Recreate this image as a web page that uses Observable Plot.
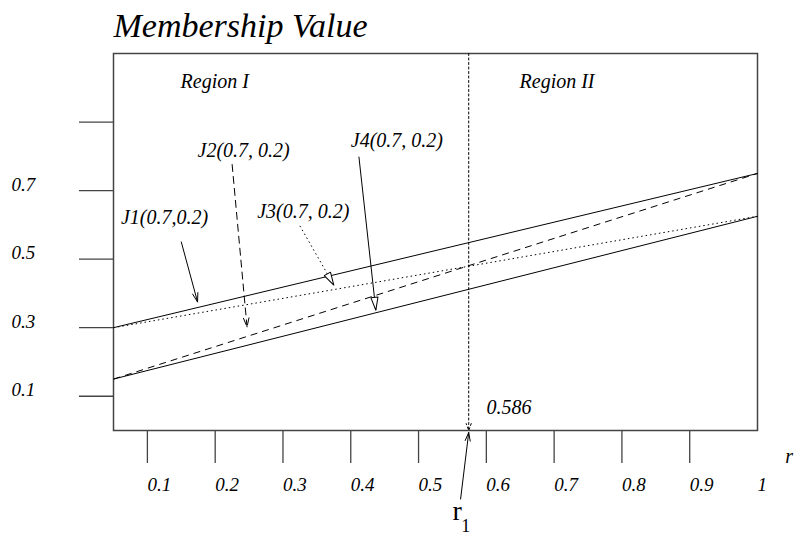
<!DOCTYPE html>
<html>
<head>
<meta charset="utf-8">
<script src="https://cdn.jsdelivr.net/npm/d3@7"></script>
<script src="https://cdn.jsdelivr.net/npm/@observablehq/plot@0.6"></script>
<style>
  html, body { margin: 0; padding: 0; background: #fff; }
  #chart svg { display: block; }
</style>
</head>
<body>
<div id="chart"></div>
<script>
// ---- data ----
const xDomain = [0.05, 1];
const yDomain = [0, 1.1];

const xTickValues = [0.1, 0.2, 0.3, 0.4, 0.5, 0.6, 0.7, 0.8, 0.9];
const xLabelValues = [0.1, 0.2, 0.3, 0.4, 0.5, 0.6, 0.7, 0.8, 0.9, 1];
const xLabelTexts = ["0.1", "0.2", "0.3", "0.4", "0.5", "0.6", "0.7", "0.8", "0.9", "1"];

const yTickValues = [0.1, 0.3, 0.5, 0.7, 0.9];
const yLabelValues = [0.1, 0.3, 0.5, 0.7];
const yLabelTexts = ["0.1", "0.3", "0.5", "0.7"];

// membership lines: [x1, y1, x2, y2]
const lineNames  = ["upperSolid", "lowerSolid", "dashed", "dotted"];
const lineX1     = [0.05, 0.05, 0.05, 0.05];
const lineY1     = [0.30, 0.15, 0.15, 0.30];
const lineX2     = [1, 1, 1, 1];
const lineY2     = [0.75, 0.625, 0.75, 0.625];
const lineDash   = ["none", "none", "7,5", "1.5,3"];

// boundary r1
const boundaryX = 0.574;
const boundaryLabel = "0.586";

// annotation arrows
const arrowNames = ["J1", "J2", "J3", "J4"];
const arrowX1 = [0.150, 0.225, 0.325, 0.412];
const arrowY1 = [0.550, 0.776, 0.597, 0.799];
const arrowX2 = [0.174, 0.247, 0.375, 0.437];
const arrowY2 = [0.375, 0.302, 0.424, 0.351];
const arrowDash = ["none", "7,5", "1.5,3", "none"];
const arrowHead = ["v", "v", "triangle", "triangle"];

// annotation labels
const labelTexts = ["J1(0.7,0.2)", "J2(0.7, 0.2)", "J3(0.7, 0.2)", "J4(0.7, 0.2)", "Region I", "Region II", boundaryLabel];
const labelX = [0.061, 0.174, 0.262, 0.400, 0.149, 0.649, 0.6004];
const labelY = [0.603, 0.799, 0.621, 0.828, 0.998, 0.998, 0.049];

// r1 arrow (below the axis)
const r1X1 = 0.562, r1Y1 = -0.200, r1X2 = 0.574, r1Y2 = -0.006;

// ---- build tables ----
const lines = lineNames.map((n, i) => ({name: n, x1: lineX1[i], y1: lineY1[i], x2: lineX2[i], y2: lineY2[i], dash: lineDash[i]}));
const arrows = arrowNames.map((n, i) => ({name: n, x1: arrowX1[i], y1: arrowY1[i], x2: arrowX2[i], y2: arrowY2[i], dash: arrowDash[i], head: arrowHead[i]}));
const labels = labelTexts.map((t, i) => ({text: t, x: labelX[i], y: labelY[i]}));
const xLabels = xLabelValues.map((v, i) => ({v, t: xLabelTexts[i]}));
const yLabels = yLabelValues.map((v, i) => ({v, t: yLabelTexts[i]}));

const FONT = "Liberation Serif, Times New Roman, serif";
const INK = "#000";
const AXIS = "#444";

function triangleMarker(color, context) {
  const doc = (context && context.document) || document;
  const ns = "http://www.w3.org/2000/svg";
  const m = doc.createElementNS(ns, "marker");
  m.setAttribute("viewBox", "-15 -6 17 12");
  m.setAttribute("markerWidth", "17");
  m.setAttribute("markerHeight", "12");
  m.setAttribute("markerUnits", "userSpaceOnUse");
  m.setAttribute("refX", "0");
  m.setAttribute("refY", "0");
  m.setAttribute("orient", "auto");
  const p = doc.createElementNS(ns, "path");
  p.setAttribute("d", "M0,0L-13,-3.6L-13,3.6Z");
  p.setAttribute("fill", "white");
  p.setAttribute("stroke", "#000");
  p.setAttribute("stroke-width", "1");
  p.setAttribute("stroke-dasharray", "none");
  m.appendChild(p);
  return m;
}

const vArrows = arrows.filter(d => d.head === "v");
const tArrows = arrows.filter(d => d.head === "triangle");

const textStyle = {fontFamily: FONT, fontStyle: "italic", fill: INK, lineAnchor: "bottom", textAnchor: "start"};

const plot = Plot.plot({
  width: 796,
  height: 538,
  marginLeft: 113,
  marginRight: 39,
  marginTop: 53,
  marginBottom: 108,
  x: {domain: xDomain, label: null},
  y: {domain: yDomain, label: null},
  style: {background: "white", fontFamily: FONT},
  marks: [
    // axes: tick lines only
    Plot.axisX({ticks: xTickValues, tickSize: 33, tickFormat: () => "", stroke: AXIS, strokeWidth: 1.3}),
    Plot.axisY({ticks: yTickValues, tickSize: 34, tickFormat: () => "", stroke: AXIS, strokeWidth: 1.3}),
    // tick labels
    Plot.text(xLabels, {x: "v", text: "t", frameAnchor: "bottom", dy: 60, fontSize: 19, ...textStyle}),
    Plot.text(yLabels, {y: "v", text: "t", frameAnchor: "left", dx: -102, fontSize: 19, ...textStyle}),
    // frame
    Plot.frame({stroke: AXIS, strokeWidth: 1.5}),
    // membership lines
    ...lines.map(d => Plot.link([d], {x1: "x1", y1: "y1", x2: "x2", y2: "y2", stroke: INK, strokeWidth: 1, strokeDasharray: d.dash})),
    // boundary line with arrowhead
    Plot.arrow([{x: boundaryX}], {x1: "x", x2: "x", y1: () => yDomain[1], y2: () => yDomain[0], stroke: INK, strokeWidth: 1, strokeDasharray: "2,2.5", headLength: 11, headAngle: 40}),
    // V-head arrows
    ...vArrows.map(d => Plot.arrow([d], {x1: "x1", y1: "y1", x2: "x2", y2: "y2", stroke: INK, strokeWidth: 1, strokeDasharray: d.dash, headLength: 14, headAngle: 34})),
    // triangle-head arrows
    ...tArrows.map(d => Plot.link([d], {x1: "x1", y1: "y1", x2: "x2", y2: "y2", stroke: INK, strokeWidth: 1, strokeDasharray: d.dash, markerEnd: triangleMarker})),
    // r1 arrow
    Plot.arrow([{x1: r1X1, y1: r1Y1, x2: r1X2, y2: r1Y2}], {x1: "x1", y1: "y1", x2: "x2", y2: "y2", stroke: INK, strokeWidth: 1, headLength: 13, headAngle: 34}),
    // annotation labels
    Plot.text(labels, {x: "x", y: "y", text: "text", fontSize: 20, ...textStyle}),
    // r1 label
    Plot.text(["r"], {x: () => 0.550, y: () => -0.262, fontSize: 28, fontFamily: FONT, fill: INK, lineAnchor: "bottom", textAnchor: "start"}),
    Plot.text(["1"], {x: () => 0.563, y: () => -0.296, fontSize: 18, fontFamily: FONT, fill: INK, lineAnchor: "bottom", textAnchor: "start"}),
    // axis name r (at the right edge)
    Plot.text(["r"], {x: () => 1.041, y: () => -0.095, fontSize: 20, ...textStyle}),
    // title
    Plot.text(["Membership Value"], {frameAnchor: "top-left", dy: -17, fontSize: 34, ...textStyle})
  ]
});

document.getElementById("chart").appendChild(plot);
</script>
</body>
</html>
